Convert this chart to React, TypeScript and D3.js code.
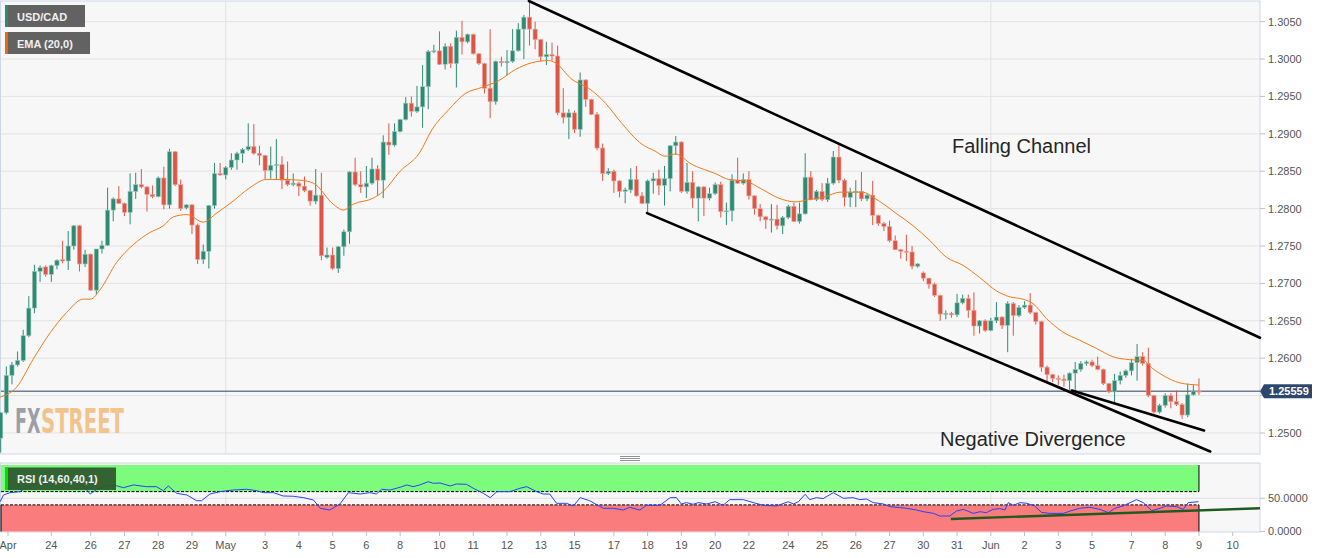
import React, { useLayoutEffect, useRef, useState } from 'react';
import * as d3 from 'd3';

// ---------- DATA ----------
const opens = [1.2493,1.2527,1.2577,1.2591,1.2597,1.2630,1.2667,1.2716,1.2722,1.2712,1.2724,1.2732,1.2730,1.2750,1.2777,1.2726,1.2739,1.2691,1.2746,1.2751,1.2798,1.2813,1.2807,1.2795,1.2823,1.2832,1.2829,1.2819,1.2816,1.2841,1.2805,1.2876,1.2832,1.2801,1.2805,1.2778,1.2732,1.2743,1.2804,1.2847,1.2845,1.2855,1.2865,1.2874,1.2879,1.2883,1.2874,1.2871,1.2851,1.2858,1.2859,1.2838,1.2832,1.2834,1.2830,1.2824,1.2810,1.2818,1.2735,1.2738,1.2720,1.2749,1.2769,1.2849,1.2832,1.2829,1.2834,1.2853,1.2838,1.2889,1.2885,1.2903,1.2919,1.2941,1.2930,1.2936,1.2963,1.3010,1.3011,1.2993,1.3017,1.2994,1.3029,1.3023,1.3033,1.3007,1.2994,1.2961,1.2943,1.2997,1.2995,1.2997,1.3011,1.3040,1.3056,1.3040,1.3026,1.3003,1.3006,1.3004,1.2928,1.2922,1.2928,1.2906,1.2972,1.2946,1.2926,1.2881,1.2847,1.2850,1.2837,1.2823,1.2825,1.2839,1.2817,1.2807,1.2837,1.2840,1.2831,1.2840,1.2884,1.2889,1.2823,1.2835,1.2814,1.2829,1.2814,1.2820,1.2832,1.2796,1.2797,1.2838,1.2834,1.2839,1.2817,1.2800,1.2789,1.2785,1.2786,1.2777,1.2788,1.2803,1.2783,1.2793,1.2842,1.2812,1.2823,1.2812,1.2834,1.2869,1.2838,1.2815,1.2822,1.2823,1.2813,1.2818,1.2791,1.2780,1.2776,1.2757,1.2745,1.2743,1.2742,1.2723,1.2714,1.2707,1.2699,1.2684,1.2659,1.2660,1.2658,1.2674,1.2680,1.2664,1.2643,1.2650,1.2637,1.2650,1.2655,1.2644,1.2673,1.2657,1.2668,1.2671,1.2661,1.2649,1.2588,1.2578,1.2573,1.2572,1.2570,1.2580,1.2585,1.2593,1.2595,1.2590,1.2585,1.2566,1.2555,1.2570,1.2577,1.2583,1.2594,1.2602,1.2593,1.2550,1.2528,1.2537,1.2550,1.2542,1.2538,1.2524,1.2551,1.2556];
const highs = [1.2528,1.2589,1.2595,1.2609,1.2638,1.2683,1.2725,1.2724,1.2724,1.2725,1.2732,1.2757,1.2770,1.2778,1.2778,1.2745,1.2740,1.2746,1.2757,1.2828,1.2815,1.2830,1.2808,1.2847,1.2848,1.2853,1.2830,1.2831,1.2843,1.2856,1.2880,1.2877,1.2839,1.2806,1.2806,1.2780,1.2752,1.2805,1.2861,1.2861,1.2857,1.2874,1.2876,1.2881,1.2914,1.2913,1.2884,1.2872,1.2883,1.2893,1.2870,1.2863,1.2847,1.2836,1.2843,1.2825,1.2853,1.2848,1.2748,1.2748,1.2750,1.2772,1.2850,1.2868,1.2850,1.2857,1.2868,1.2858,1.2898,1.2914,1.2914,1.2920,1.2949,1.2950,1.2964,1.2992,1.3012,1.3019,1.3037,1.3021,1.3021,1.3038,1.3051,1.3034,1.3034,1.3008,1.2995,1.3040,1.2998,1.3003,1.3012,1.3040,1.3048,1.3059,1.3077,1.3050,1.3027,1.3023,1.3022,1.3018,1.2961,1.2933,1.2931,1.2982,1.2973,1.2947,1.2929,1.2887,1.2854,1.2852,1.2838,1.2828,1.2854,1.2857,1.2822,1.2839,1.2848,1.2852,1.2857,1.2885,1.2897,1.2890,1.2861,1.2850,1.2830,1.2830,1.2828,1.2835,1.2836,1.2808,1.2846,1.2868,1.2847,1.2850,1.2818,1.2806,1.2790,1.2806,1.2805,1.2790,1.2805,1.2808,1.2808,1.2874,1.2850,1.2825,1.2834,1.2841,1.2877,1.2886,1.2840,1.2828,1.2838,1.2849,1.2820,1.2837,1.2792,1.2782,1.2784,1.2764,1.2746,1.2765,1.2750,1.2727,1.2716,1.2707,1.2701,1.2685,1.2664,1.2662,1.2686,1.2685,1.2685,1.2688,1.2651,1.2652,1.2654,1.2675,1.2656,1.2676,1.2675,1.2671,1.2676,1.2687,1.2662,1.2650,1.2590,1.2579,1.2577,1.2578,1.2581,1.2595,1.2596,1.2597,1.2598,1.2602,1.2586,1.2567,1.2579,1.2582,1.2585,1.2599,1.2619,1.2608,1.2614,1.2551,1.2539,1.2553,1.2553,1.2557,1.2540,1.2566,1.2564,1.2573];
const lows = [1.2474,1.2525,1.2565,1.2589,1.2595,1.2628,1.2660,1.2702,1.2709,1.2702,1.2719,1.2727,1.2718,1.2745,1.2716,1.2722,1.2690,1.2685,1.2740,1.2750,1.2783,1.2806,1.2790,1.2779,1.2813,1.2827,1.2796,1.2814,1.2815,1.2799,1.2800,1.2830,1.2797,1.2799,1.2766,1.2726,1.2726,1.2720,1.2800,1.2844,1.2839,1.2852,1.2852,1.2861,1.2877,1.2872,1.2858,1.2839,1.2840,1.2839,1.2826,1.2830,1.2830,1.2817,1.2822,1.2804,1.2806,1.2731,1.2733,1.2718,1.2714,1.2737,1.2753,1.2830,1.2821,1.2814,1.2832,1.2818,1.2814,1.2872,1.2883,1.2902,1.2918,1.2923,1.2928,1.2908,1.2933,1.3008,1.2992,1.2986,1.2988,1.2962,1.3006,1.3021,1.3006,1.2992,1.2954,1.2921,1.2939,1.2990,1.2978,1.2995,1.3010,1.3000,1.3018,1.3013,1.2997,1.2992,1.2998,1.2925,1.2914,1.2893,1.2901,1.2896,1.2936,1.2925,1.2878,1.2837,1.2845,1.2821,1.2815,1.2807,1.2821,1.2816,1.2806,1.2795,1.2820,1.2818,1.2804,1.2823,1.2872,1.2821,1.2820,1.2801,1.2783,1.2790,1.2811,1.2818,1.2788,1.2778,1.2783,1.2833,1.2832,1.2812,1.2792,1.2783,1.2773,1.2768,1.2772,1.2766,1.2786,1.2782,1.2780,1.2792,1.2811,1.2810,1.2810,1.2809,1.2832,1.2834,1.2803,1.2802,1.2802,1.2810,1.2810,1.2778,1.2777,1.2770,1.2755,1.2745,1.2733,1.2730,1.2719,1.2721,1.2703,1.2693,1.2682,1.2650,1.2652,1.2654,1.2655,1.2672,1.2654,1.2630,1.2633,1.2635,1.2636,1.2647,1.2639,1.2608,1.2630,1.2655,1.2666,1.2659,1.2645,1.2582,1.2568,1.2568,1.2564,1.2562,1.2557,1.2553,1.2582,1.2590,1.2588,1.2584,1.2564,1.2553,1.2539,1.2565,1.2574,1.2577,1.2570,1.2590,1.2548,1.2526,1.2526,1.2534,1.2533,1.2536,1.2519,1.2521,1.2550,1.2551];
const closes = [1.2527,1.2577,1.2591,1.2597,1.2630,1.2667,1.2716,1.2721,1.2712,1.2724,1.2731,1.2730,1.2750,1.2777,1.2726,1.2739,1.2691,1.2746,1.2751,1.2798,1.2813,1.2807,1.2795,1.2823,1.2832,1.2829,1.2819,1.2816,1.2841,1.2805,1.2876,1.2832,1.2800,1.2805,1.2778,1.2732,1.2743,1.2804,1.2847,1.2845,1.2855,1.2865,1.2874,1.2879,1.2883,1.2874,1.2871,1.2851,1.2858,1.2859,1.2838,1.2832,1.2834,1.2830,1.2824,1.2810,1.2818,1.2737,1.2738,1.2720,1.2749,1.2769,1.2849,1.2832,1.2829,1.2834,1.2853,1.2838,1.2889,1.2885,1.2903,1.2919,1.2941,1.2930,1.2936,1.2963,1.3010,1.3011,1.2993,1.3017,1.2994,1.3029,1.3023,1.3033,1.3007,1.2994,1.2961,1.2943,1.2997,1.2995,1.2997,1.3011,1.3040,1.3056,1.3040,1.3026,1.3003,1.3006,1.3004,1.2928,1.2922,1.2928,1.2906,1.2972,1.2946,1.2926,1.2881,1.2847,1.2850,1.2837,1.2823,1.2825,1.2839,1.2817,1.2807,1.2837,1.2840,1.2831,1.2840,1.2884,1.2889,1.2823,1.2835,1.2814,1.2829,1.2814,1.2820,1.2832,1.2796,1.2797,1.2838,1.2834,1.2839,1.2817,1.2800,1.2789,1.2785,1.2786,1.2777,1.2788,1.2803,1.2783,1.2793,1.2842,1.2812,1.2823,1.2812,1.2834,1.2869,1.2838,1.2815,1.2822,1.2823,1.2813,1.2818,1.2791,1.2780,1.2776,1.2757,1.2745,1.2743,1.2742,1.2723,1.2726,1.2707,1.2699,1.2684,1.2659,1.2660,1.2658,1.2674,1.2680,1.2664,1.2643,1.2650,1.2637,1.2650,1.2655,1.2644,1.2673,1.2657,1.2668,1.2671,1.2661,1.2649,1.2588,1.2578,1.2573,1.2572,1.2570,1.2580,1.2585,1.2593,1.2595,1.2590,1.2585,1.2566,1.2555,1.2570,1.2577,1.2583,1.2594,1.2602,1.2593,1.2550,1.2528,1.2537,1.2550,1.2542,1.2538,1.2524,1.2551,1.2556,1.25559];

const emaIdx = [-0.1,2.8,5.8,8.8,11.7,14.7,16,17.7,20.6,23.6,26.5,28.9,30.7,33.1,36.0,38.4,41.3,44.3,47.3,50.2,53.2,55.6,59.1,60.9,62.7,66.2,68.0,71.0,74.4,76.7,79.6,82.6,85.5,88.5,91.5,94.4,97.4,98.6,101.5,104.5,107.5,110.4,114.0,116.3,118.1,119.9,122.9,125.9,127.0,129.4,132.3,135.3,138.3,141.3,143.6,146.6,149.2,153.3,155.1,159.3,162.2,165.2,168.1,171.1,174.0,177.0,179.4,181.7,183.5,185.9,188.8,191.8,194.8,197.7,200.7,203.1,204.8,206.6,209.6,211.3,213];
const emaVal = [1.2548,1.2561,1.2599,1.2634,1.2661,1.2679,1.2679,1.2692,1.2728,1.2752,1.2768,1.2777,1.2789,1.2792,1.2782,1.2794,1.2810,1.2828,1.2839,1.2839,1.2838,1.2834,1.2806,1.2798,1.2806,1.2814,1.2823,1.2850,1.2874,1.2906,1.2932,1.2954,1.2962,1.2971,1.2986,1.2995,1.2998,1.2995,1.2973,1.2961,1.2941,1.2914,1.2886,1.2877,1.2870,1.2873,1.2859,1.2850,1.2847,1.2839,1.2837,1.2826,1.2814,1.2809,1.2812,1.2816,1.2822,1.2822,1.2815,1.2793,1.2777,1.2757,1.2735,1.2724,1.2708,1.2690,1.2682,1.2679,1.2673,1.2653,1.2635,1.2624,1.2613,1.2602,1.2598,1.2597,1.2586,1.2577,1.2567,1.2565,1.2564];

const rsiIdx = [-0.1,0.5,1.65,3.4,4.6,6.4,8.2,9.9,11.7,13.5,14.7,15.9,17.1,18.8,20.6,21.8,23.6,25.9,27.7,28.9,29.8,31.3,33.1,34.8,35.7,37.2,39.0,41.3,43.7,45.5,46.7,48.5,50.2,52.0,53.8,55.6,56.8,58.5,60.3,61.8,63.9,65.6,66.8,67.7,69.2,71.0,72.2,73.3,74.5,76.0,76.9,78.1,79.9,81.0,82.8,84.0,85.8,87.0,88.2,90.5,92.3,93.5,95.3,96.4,97.6,98.8,100.6,101.8,103.0,104.7,107.1,108.9,110.7,111.8,113.6,114.8,117.2,119.0,120.1,121.0,121.9,123.1,124.0,125.5,127.0,128.4,129.6,132.0,133.8,135.5,137.9,140.0,140.9,141.8,143.0,143.8,145.0,146.2,148.0,149.8,151.5,152.7,153.9,155.1,156.9,158.1,159.8,161.0,162.8,164.0,165.8,166.9,168.7,169.9,171.1,172.9,174.1,175.2,176.4,177.6,178.5,179.1,180.0,181.2,182.4,183.8,185.0,186.5,188.9,190.1,191.8,193.6,195.4,196.9,198.1,199.5,201.9,203.1,204.6,206.1,207.2,209.0,210.2,211.1,212.9];
const rsiVal = [44.8,54.9,58.4,59.9,66.5,72.5,72.5,74.9,72.5,77.5,68.4,56.4,63.5,68.4,68.8,65.9,70,67.4,67.4,61.4,68.4,57.4,54.9,46.3,46.3,56.4,59.9,62.4,63.5,61.4,58.4,58.4,53.4,53.0,50.9,47.4,34.9,32.3,41.4,58.4,56.4,58.4,56.4,63.5,62.4,66.5,70,67.4,70,74.9,72.5,73,68.4,71.4,71,65,57.4,50.9,59.9,59.9,65,67.4,59.9,56.4,56.4,42.4,42.4,38.4,50.9,46.3,34.9,34.9,32.3,36.4,32.3,39.4,39.4,50.9,51,41.4,43.4,40.9,43.4,41.4,44.8,39.4,47.9,47.9,43.4,39.4,38.4,44.8,41.4,44.8,55.9,47.9,50.9,49.5,58.4,49.9,50.9,47.9,48.9,43.4,41.4,37.4,36,34.9,32.3,29.8,27.3,23.3,23.3,30.8,33.3,27.3,29.8,28.3,33.3,34.4,32.3,43.4,39.4,43.4,42.4,38.4,28.8,27.3,27.3,30.8,34.9,36.4,33.3,28.3,34.9,38.4,47.9,43.4,31.3,34.9,38.4,37.4,33.3,43.4,44.8];

const priceTicks = [1.25,1.255,1.26,1.265,1.27,1.275,1.28,1.285,1.29,1.295,1.30,1.305];
const rsiTicks = [0, 50];
const dateLabels = ['Apr','24','26','27','28','29','May','3','4','5','6','8','10','11','12','13','15','17','18','19','20','22','24','25','26','27','30','31','Jun','2','3','5','7','8','9','10'];
const dateIdx = [1.3,9,16,22,28,34,40,47,53,59,65,71,78,84,90,96,102,109,115,121,127,133,140,146,152,158,164,170,176,182,188,194,201,207,213,219];
const monthIdx = [40, 176];
const lastPrice = 1.25559;
const rsiUpper = 60, rsiLower = 40;

// annotation lines: [index, value]
const upperChannel = [[93.9, 1.30776], [223.85, 1.26273]];
const lowerChannel = [[114.9, 1.2794], [215.0, 1.24753]];
const divergenceLine = [[190.4, 1.25567], [213.9, 1.25033]];
const rsiTrend = [[168.9, 18.8], [223.85, 34.9]];

// ---------- LAYOUT ----------
const W = 1331, H = 558;
const PR = 1260; // plot right
const MT = 1, MB = 454; // main panel
const RT = 463, RB = 532; // rsi panel

const FONT = '"Liberation Sans", Arial, sans-serif';
const GREEN = '#2e8a72', RED = '#db5646';
const WM_FONT = '"DejaVu Sans Condensed", "DejaVu Sans", sans-serif';

function Watermark() {
  const fxRef = useRef<SVGTextElement>(null);
  const stRef = useRef<SVGTextElement>(null);
  const [sc, setSc] = useState<[number, number]>([0.6, 0.6]);
  useLayoutEffect(() => {
    const a = fxRef.current ? fxRef.current.getComputedTextLength() : 0;
    const b = stRef.current ? stRef.current.getComputedTextLength() : 0;
    if (a > 0 && b > 0) setSc([25.5 / a, 83 / b]);
  }, []);
  return (
    <g>
      <text ref={fxRef} transform={`translate(15,433) scale(${sc[0]},1)`} fontFamily={WM_FONT} fontWeight="bold" fontSize={34} fill="#9c9fa7">FX</text>
      <text ref={stRef} transform={`translate(41,433) scale(${sc[1]},1)`} fontFamily={WM_FONT} fontWeight="bold" fontSize={34} fill="#f3c38c">STREET</text>
    </g>
  );
}

export default function App() {
  const x = d3.scaleLinear().domain([-0.124, 223.85]).range([0, PR]);
  const y = d3.scaleLinear().domain([1.24719, 1.30776]).range([MB, MT]);
  const yr = d3.scaleLinear().domain([0, 100]).range([531.5, 465]);

  const emaLine = d3.line<number>().x((_, i) => x(emaIdx[i])).y((d) => y(d)).curve(d3.curveMonotoneX)(emaVal) || '';
  const rsiLine = d3.line<number>().x((_, i) => x(rsiIdx[i])).y((d) => yr(d))(rsiVal) || '';
  const lastIdx = closes.length - 1;
  const bw = 4.2;

  return (
    <svg width={W} height={H} style={{ position: 'absolute', left: 0, top: 0, background: '#fff' }} fontFamily={FONT}>
      {/* panels */}
      <rect x={0.5} y={MT} width={PR - 0.5} height={MB - MT} fill="#f7f7f7" stroke="#cfd6e6" />
      <rect x={0.5} y={RT} width={PR - 0.5} height={RB - RT} fill="#f7f7f7" stroke="#cfd6e6" />

      {/* main grid */}
      {priceTicks.map((t) => (
        <line key={'g' + t} x1={1} x2={PR} y1={y(t)} y2={y(t)} stroke="#e3e3e3" strokeWidth={1} />
      ))}
      {monthIdx.map((m) => (
        <g key={'m' + m}>
          <line x1={x(m)} x2={x(m)} y1={MT} y2={MB} stroke="#e3e3e3" />
          <line x1={x(m)} x2={x(m)} y1={RT} y2={RB} stroke="#e3e3e3" />
        </g>
      ))}

      {/* watermark */}
      <Watermark />

      {/* last price line */}
      <line x1={1} x2={PR} y1={y(lastPrice)} y2={y(lastPrice)} stroke="#2c3f62" strokeWidth={1} />

      {/* candles */}
      {closes.map((c, i) => {
        const o = opens[i];
        const up = c >= o;
        const col = up ? GREEN : RED;
        const cx = x(i);
        const top = y(Math.max(o, c));
        const bot = y(Math.min(o, c));
        return (
          <g key={'c' + i}>
            <line x1={cx} x2={cx} y1={y(highs[i])} y2={y(lows[i])} stroke={col} strokeWidth={1} />
            <rect x={cx - bw / 2} y={top} width={bw} height={Math.max(1, bot - top)} fill={col} stroke={up ? '#9cc9bc' : '#eea79d'} strokeWidth={0.6} />
          </g>
        );
      })}

      {/* EMA */}
      <path d={emaLine} fill="none" stroke="#f27a1a" strokeWidth={1} />

      {/* trend lines */}
      {[upperChannel, lowerChannel, divergenceLine].map((l, k) => (
        <line key={'t' + k} x1={x(l[0][0])} y1={y(l[0][1])} x2={x(l[1][0])} y2={y(l[1][1])} stroke="#000" strokeWidth={2.6} strokeLinecap="round" />
      ))}

      <text x={952} y={153} fontSize={20} fill="#262626">Falling Channel</text>
      <text x={940} y={446} fontSize={20} fill="#262626">Negative Divergence</text>

      {/* legends */}
      <rect x={5} y={5} width={80} height={22} fill="#555" opacity={0.92} />
      <rect x={5} y={5} width={3} height={22} fill="#2e8a72" />
      <text x={17} y={20.5} fontSize={11} fontWeight="bold" fill="#f0f0f0">USD/CAD</text>
      <rect x={5} y={32} width={85} height={22} fill="#555" opacity={0.92} />
      <rect x={5} y={32} width={3} height={22} fill="#e8690a" />
      <text x={17} y={47.5} fontSize={11} fontWeight="bold" fill="#f0f0f0">EMA (20,0)</text>

      {/* y axis main */}
      {priceTicks.map((t) => (
        <g key={'yt' + t}>
          <line x1={PR} x2={PR + 5} y1={y(t)} y2={y(t)} stroke="#b8c0d0" />
          {Math.abs(y(t) - y(lastPrice)) > 10 && (
            <text x={PR + 8} y={y(t)} dy="0.36em" fontSize={11} fill="#555">{t.toFixed(4)}</text>
          )}
        </g>
      ))}
      {/* last price tag */}
      <path d={`M${PR},${y(lastPrice)} L${PR + 4},${y(lastPrice) - 7} L${PR + 52},${y(lastPrice) - 7} L${PR + 52},${y(lastPrice) + 7} L${PR + 4},${y(lastPrice) + 7} Z`} fill="#2d486c" />
      <text x={PR + 9} y={y(lastPrice)} dy="0.36em" fontSize={11} fontWeight="bold" fill="#fff">{lastPrice.toFixed(5)}</text>

      {/* panel handle */}
      {[0, 2, 4].map((d) => (
        <line key={'h' + d} x1={620} x2={640} y1={456.5 + d} y2={456.5 + d} stroke="#777" strokeWidth={0.8} />
      ))}

      {/* RSI panel */}
      <line x1={1} x2={PR} y1={yr(50)} y2={yr(50)} stroke="#e0e0e0" />
      <rect x={1} y={yr(100)} width={x(lastIdx) - 1} height={yr(rsiUpper) - yr(100)} fill="#7cfb7c" />
      <rect x={1} y={yr(rsiLower)} width={x(lastIdx) - 1} height={yr(0) - yr(rsiLower)} fill="#fb7c7c" />
      <line x1={1} x2={x(lastIdx)} y1={yr(rsiUpper)} y2={yr(rsiUpper)} stroke="#000" strokeDasharray="3,1.5" />
      <line x1={1} x2={x(lastIdx)} y1={yr(rsiLower)} y2={yr(rsiLower)} stroke="#000" strokeDasharray="3,1.5" />
      <line x1={x(lastIdx)} x2={x(lastIdx)} y1={yr(100)} y2={yr(rsiUpper)} stroke="#000" />
      <line x1={x(lastIdx)} x2={x(lastIdx)} y1={yr(rsiLower)} y2={yr(0)} stroke="#000" />
      <line x1={1} x2={1} y1={yr(rsiLower)} y2={yr(0)} stroke="#000" />
      <path d={rsiLine} fill="none" stroke="#2343ff" strokeWidth={1} />
      <line x1={x(rsiTrend[0][0])} y1={yr(rsiTrend[0][1])} x2={x(rsiTrend[1][0])} y2={yr(rsiTrend[1][1])} stroke="#1f5a1f" strokeWidth={2.4} />
      <rect x={5} y={467.5} width={111} height={22.5} fill="#2f5b2f" opacity={0.95} />
      <rect x={5} y={467.5} width={3} height={22.5} fill="#00e000" />
      <text x={17} y={483} fontSize={11} fontWeight="bold" fill="#f0f0f0">RSI (14,60,40,1)</text>

      {rsiTicks.map((t) => (
        <g key={'rt' + t}>
          <line x1={PR} x2={PR + 5} y1={yr(t)} y2={yr(t)} stroke="#b8c0d0" />
          <text x={PR + 8} y={yr(t)} dy="0.36em" fontSize={11} fill="#555">{t.toFixed(4)}</text>
        </g>
      ))}

      {/* x axis */}
      {dateIdx.map((d, k) => (
        <g key={'xt' + k}>
          <line x1={x(d)} x2={x(d)} y1={RB} y2={RB + 4} stroke="#b8c0d0" />
          <text x={x(d)} y={549} textAnchor="middle" fontSize={11} fill="#555">{dateLabels[k]}</text>
        </g>
      ))}
    </svg>
  );
}
